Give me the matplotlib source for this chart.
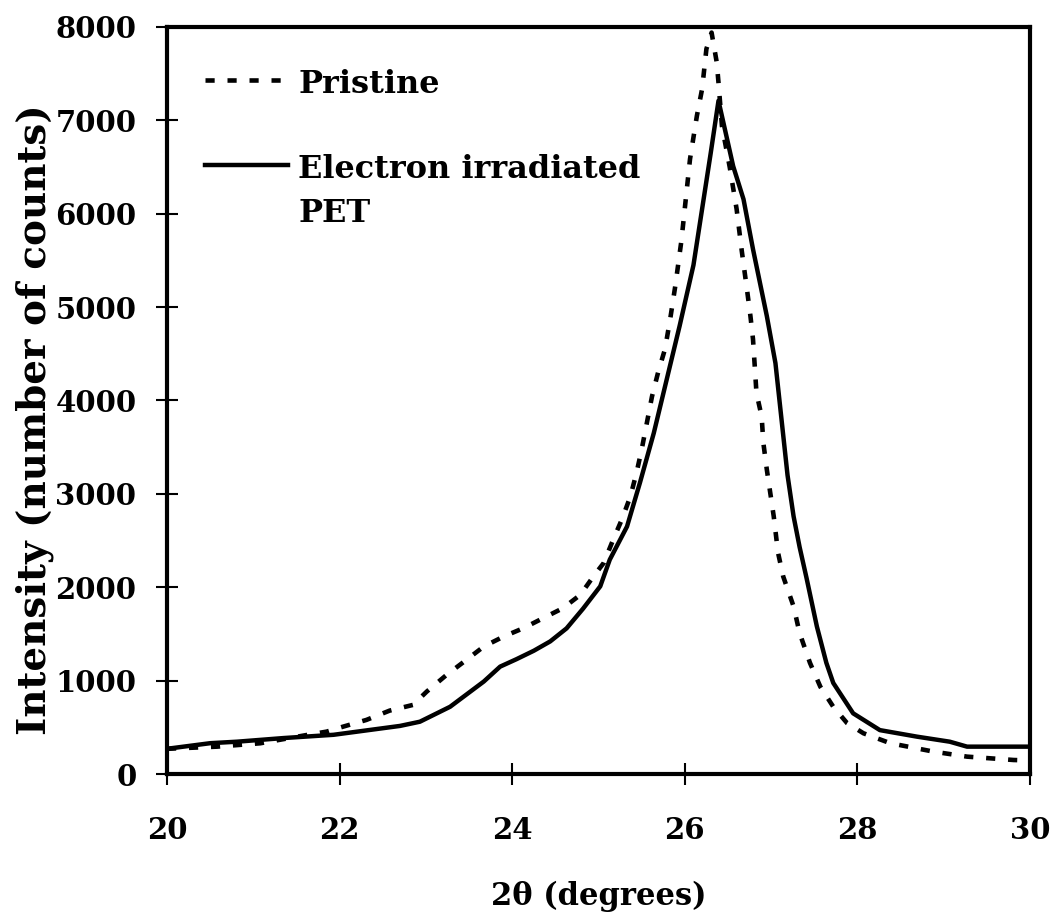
import numpy as np
import matplotlib
matplotlib.use('Agg')
from matplotlib import pyplot as plt

# pristine PET (dotted line)
x_pristine = [20.0, 20.58, 21.08, 21.62, 21.85, 22.04, 22.31, 22.58, 22.85, 23.01, 23.24, 23.47,
              23.67, 23.9, 24.13, 24.36, 24.59, 24.79, 24.94, 25.06, 25.17, 25.27, 25.37, 25.44,
              25.5, 25.56, 25.62, 25.69, 25.77, 25.83, 25.89, 25.96, 26.06, 26.14, 26.2, 26.25,
              26.31, 26.37, 26.39, 26.43, 26.52, 26.6, 26.66, 26.72, 26.76, 26.79, 26.81, 26.83,
              26.89, 26.91, 26.95, 26.99, 27.03, 27.08, 27.14, 27.26, 27.33, 27.45, 27.57, 27.72,
              27.88, 28.07, 28.38, 28.88, 29.27, 29.81, 30.0]
y_pristine = [270, 293, 329, 418, 454, 507, 579, 679, 740, 883, 1062, 1223,
              1365, 1472, 1562, 1670, 1777, 1920, 2115, 2260, 2510, 2725, 2975, 3225,
              3475, 3760, 4045, 4300, 4550, 4870, 5230, 5710, 6585, 7050, 7335, 7765,
              7940, 7620, 7405, 6940, 6500, 6050, 5600, 5190, 4905, 4655, 4370, 4080,
              3830, 3545, 3260, 3010, 2760, 2370, 2115, 1795, 1510, 1190, 935, 720,
              545, 436, 330, 240, 186, 150, 145]

# electron irradiated PET (solid line)
x_irr = [20.0, 20.5, 20.81, 21.35, 21.93, 22.7, 22.93, 23.28, 23.67, 23.86, 24.05, 24.25,
         24.44, 24.63, 24.82, 25.02, 25.13, 25.33, 25.48, 25.64, 25.79, 25.94, 26.1, 26.2,
         26.3, 26.39, 26.56, 26.68, 26.79, 26.95, 27.05, 27.12, 27.19, 27.26, 27.33,
         27.41, 27.53, 27.64, 27.72, 27.95, 28.26, 28.69, 29.07, 29.27, 30.0]
y_irr = [270, 330, 346, 385, 420, 515, 560, 720, 990, 1150, 1230, 1320,
         1420, 1560, 1770, 2010, 2295, 2650, 3120, 3650, 4225, 4800, 5450, 6050,
         6650, 7210, 6510, 6155, 5620, 4905, 4400, 3800, 3200, 2760, 2430,
         2100, 1580, 1190, 975, 650, 470, 400, 346, 293, 293]

xticks = [20, 22, 24, 26, 28, 30]
yticks = [0, 1000, 2000, 3000, 4000, 5000, 6000, 7000, 8000]

plt.rcParams['font.family'] = ['DejaVu Serif']
plt.rcParams['font.weight'] = 'bold'

fig = plt.figure(figsize=(10.57, 9.21), dpi=100)
ax = fig.add_axes([0.158, 0.1596, 0.8165, 0.8111])

dots = (0, (2, 2.8))
ax.plot(x_pristine, y_pristine, color='black', lw=3.3, linestyle=dots)
ax.plot(x_irr, y_irr, color='black', lw=3.2)

ax.set_xlim(20, 30)
ax.set_ylim(0, 8000)
ax.set_xticks(xticks)
ax.set_yticks(yticks)
ax.tick_params(direction='inout', length=16, width=1.5, labelsize=21, pad=14)
ax.tick_params(axis='x', pad=22)
for s in ax.spines.values():
    s.set_linewidth(3)

ax.set_xlabel('2θ (degrees)', fontsize=22, fontweight='bold', labelpad=26)
ax.set_ylabel('Intensity (number of counts)', fontsize=28, fontweight='bold')
ax.yaxis.set_label_coords(-0.131, 0.474)

# legend drawn by hand so the solid key lines up with the first text line
ax.plot([0.044, 0.14], [0.929, 0.929], transform=ax.transAxes, color='black', lw=3.3, linestyle=dots)
ax.plot([0.044, 0.14], [0.815, 0.815], transform=ax.transAxes, color='black', lw=3.2)
ax.text(0.152, 0.912, 'Pristine', transform=ax.transAxes, fontsize=23, fontweight='bold', va='baseline')
ax.text(0.152, 0.798, 'Electron irradiated', transform=ax.transAxes, fontsize=23, fontweight='bold', va='baseline')
ax.text(0.152, 0.739, 'PET', transform=ax.transAxes, fontsize=23, fontweight='bold', va='baseline')

fig.savefig('out.png', dpi=100)
